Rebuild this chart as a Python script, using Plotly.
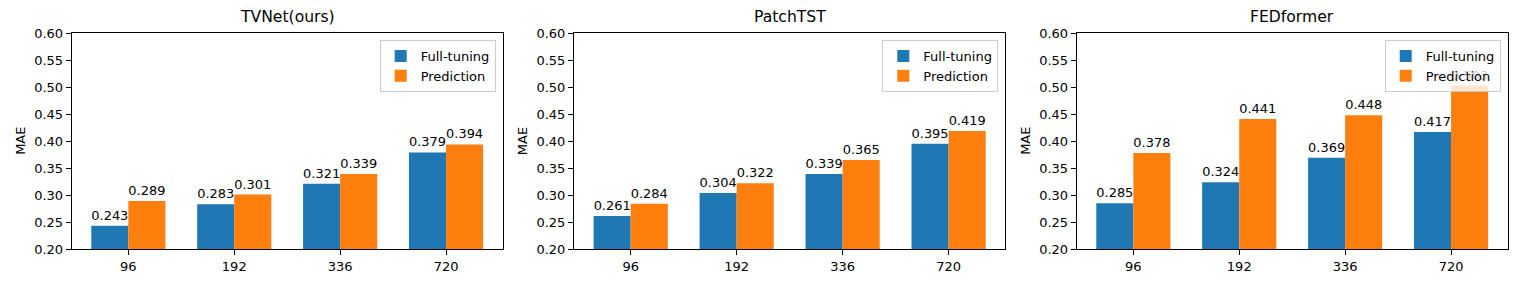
import plotly.graph_objects as go

horizons = ["96", "192", "336", "720"]
titles = ["TVNet(ours)", "PatchTST", "FEDformer"]
full_tuning = [
    [0.243, 0.283, 0.321, 0.379],
    [0.261, 0.304, 0.339, 0.395],
    [0.285, 0.324, 0.369, 0.417],
]
prediction = [
    [0.289, 0.301, 0.339, 0.394],
    [0.284, 0.322, 0.365, 0.419],
    [0.378, 0.441, 0.448, 0.503],
]
yticks = [0.20, 0.25, 0.30, 0.35, 0.40, 0.45, 0.50, 0.55, 0.60]

W, H = 1522, 286
OFF = 8  # page body margin offset
x_doms = [(71.7 - OFF, 502.7 - OFF), (574.0 - OFF, 1005.3 - OFF), (1076.7 - OFF, 1507.7 - OFF)]
y_top, y_bot = 33.3 - OFF, 249.0 - OFF
BLUE, ORANGE = "#1f77b4", "#ff7f0e"
FONT = "DejaVu Sans"
FS = 13
TFS = 15.6

fig = go.Figure()
layout = dict(
    width=W, height=H, margin=dict(l=0, r=0, t=0, b=0, autoexpand=False),
    paper_bgcolor="white", plot_bgcolor="white",
    barmode="group", bargap=0.3, bargroupgap=0,
    font=dict(family=FONT, size=FS, color="black"),
    annotations=[],
)
for i in range(3):
    ax = "" if i == 0 else str(i + 1)
    leg = "legend" if i == 0 else f"legend{i+1}"
    fig.add_trace(go.Bar(
        x=horizons, y=full_tuning[i], name="Full-tuning", marker_color=BLUE,
        marker_line_width=0, xaxis="x" + ax, yaxis="y" + ax, legend=leg,
        text=[f"{v:.3f}" for v in full_tuning[i]], textposition="outside",
        textfont=dict(family=FONT, size=FS, color="black"), cliponaxis=False,
    ))
    fig.add_trace(go.Bar(
        x=horizons, y=prediction[i], name="Prediction", marker_color=ORANGE,
        marker_line_width=0, xaxis="x" + ax, yaxis="y" + ax, legend=leg,
        text=[f"{v:.3f}" for v in prediction[i]], textposition="outside",
        textfont=dict(family=FONT, size=FS, color="black"), cliponaxis=False,
    ))
    x0, x1 = x_doms[i]
    layout["xaxis" + ax] = dict(
        domain=[x0 / W, x1 / W], anchor="y" + ax, type="category",
        range=[-0.535, 3.535], showgrid=False, zeroline=False, automargin=False,
        showline=True, linecolor="black", linewidth=1, mirror=True,
        ticks="outside", ticklen=5, tickcolor="black",
        tickfont=dict(family=FONT, size=FS, color="black"),
    )
    layout["yaxis" + ax] = dict(
        domain=[1 - y_bot / H, 1 - y_top / H], anchor="x" + ax,
        range=[0.2, 0.6], tickvals=yticks, ticktext=[f"{v:.2f}" for v in yticks],
        showgrid=False, zeroline=False, automargin=False,
        showline=True, linecolor="black", linewidth=1, mirror=True,
        ticks="outside", ticklen=5, tickcolor="black",
        tickfont=dict(family=FONT, size=FS, color="black"),
    )
    layout[leg] = dict(
        x=(x1 - 7) / W, y=1 - (40 - OFF) / H, xanchor="right", yanchor="top",
        bgcolor="rgba(255,255,255,0.8)", bordercolor="#cccccc", borderwidth=1,
        font=dict(family=FONT, size=FS, color="black"),
        tracegroupgap=0, itemwidth=30,
    )
    layout["annotations"].append(dict(
        text=titles[i], x=(x0 + x1) / 2 / W, y=1 - (y_top - 5) / H,
        xref="paper", yref="paper", xanchor="center", yanchor="bottom",
        showarrow=False, font=dict(family=FONT, size=TFS, color="black"),
    ))
    layout["annotations"].append(dict(
        text="MAE", x=(x0 - 52) / W, y=1 - (y_top + y_bot) / 2 / H,
        xref="paper", yref="paper", xanchor="center", yanchor="middle",
        textangle=-90, showarrow=False,
        font=dict(family=FONT, size=FS, color="black"),
    ))

fig.update_layout(**layout)
fig.write_html("out.html")
